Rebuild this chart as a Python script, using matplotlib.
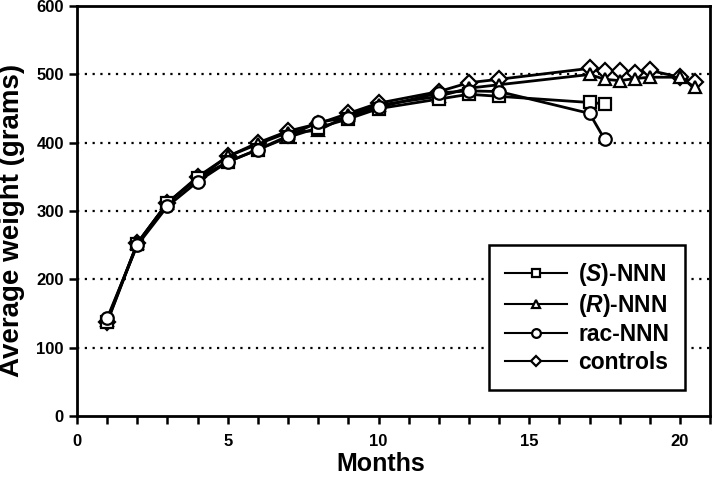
import matplotlib
matplotlib.use("Agg")
import matplotlib.pyplot as plt
from matplotlib.ticker import MultipleLocator

plt.rcParams["font.family"] = ["Liberation Sans", "DejaVu Sans"]
plt.rcParams["font.weight"] = "bold"
plt.rcParams["mathtext.fontset"] = "custom"
plt.rcParams["mathtext.it"] = "Liberation Sans:bold:italic"
plt.rcParams["mathtext.rm"] = "Liberation Sans:bold"

# 数据
months_s = [1, 2, 3, 4, 5, 6, 7, 8, 9, 10, 12, 13, 14, 17, 17.5]
s_nnn = [137, 252, 312, 348, 372, 390, 408, 422, 435, 450, 464, 471, 468, 459, 457]

months_rac = [1, 2, 3, 4, 5, 6, 7, 8, 9, 10, 12, 13, 14, 17, 17.5]
rac_nnn = [143, 250, 307, 343, 372, 390, 410, 430, 437, 452, 473, 476, 475, 443, 405]

months_long = [1, 2, 3, 4, 5, 6, 7, 8, 9, 10, 12, 13, 14, 17, 17.5, 18, 18.5, 19, 20, 20.5]
r_nnn = [140, 253, 312, 348, 380, 398, 415, 418, 440, 455, 468, 480, 485,
         500, 493, 491, 494, 496, 496, 481]
controls = [138, 253, 312, 350, 380, 400, 417, 428, 443, 458, 475, 488, 493,
            509, 505, 505, 502, 506, 496, 489]

fig = plt.figure(figsize=(7.13, 4.78), dpi=100)
ax = fig.add_axes([0.108, 0.130, 0.888, 0.857])

style = dict(color="black", lw=2, mfc="white", mec="black", mew=1.6, ms=9)
ax.plot(months_long, controls, marker="D", label="controls", zorder=3,
        **{**style, "ms": 8})
ax.plot(months_long, r_nnn, marker="^", label="($\\it{R}$)-NNN", zorder=4, **style)
ax.plot(months_s, s_nnn, marker="s", label="($\\it{S}$)-NNN", zorder=5, **style)
ax.plot(months_rac, rac_nnn, marker="o", label="rac-NNN", zorder=6, **style)

# 网格线
for yv in [100, 200, 300, 400, 500]:
    ax.axhline(yv, color="black", ls=(0, (1, 2.5)), lw=1.6, zorder=1)

ax.set_xlim(0, 21)
ax.set_ylim(0, 600)
ax.xaxis.set_major_locator(MultipleLocator(5))
ax.xaxis.set_minor_locator(MultipleLocator(1))
ax.yaxis.set_major_locator(MultipleLocator(100))
ax.tick_params(axis="both", which="major", direction="out", length=6, width=1.8,
               labelsize=12)
ax.tick_params(axis="x", which="major", pad=7)
ax.tick_params(axis="x", which="minor", direction="out", length=6, width=1.8)
for sp in ax.spines.values():
    sp.set_linewidth(2)
for lab in ax.get_xticklabels() + ax.get_yticklabels():
    lab.set_fontweight("bold")

ax.set_xlabel("Months", fontsize=18, fontweight="bold")
ax.xaxis.set_label_coords(0.479, -0.089)
ax.set_ylabel("Average weight (grams)", fontsize=20, fontweight="bold")
ax.yaxis.set_label_coords(-0.082, 0.477)

handles, labels = ax.get_legend_handles_labels()
order = [2, 1, 3, 0]
leg = ax.legend([handles[i] for i in order], [labels[i] for i in order],
                loc="lower right", bbox_to_anchor=(0.9605, 0.064), fancybox=False,
                edgecolor="black", framealpha=1, markerscale=0.7, handlelength=2.7,
                handletextpad=0.5, borderpad=0.7, labelspacing=0.18,
                borderaxespad=0, prop={"weight": "bold", "size": 16.5})
leg.get_frame().set_linewidth(1.8)
for h in leg.legend_handles:
    h.set_linewidth(1.5)

fig.savefig("out.png", dpi=100)
